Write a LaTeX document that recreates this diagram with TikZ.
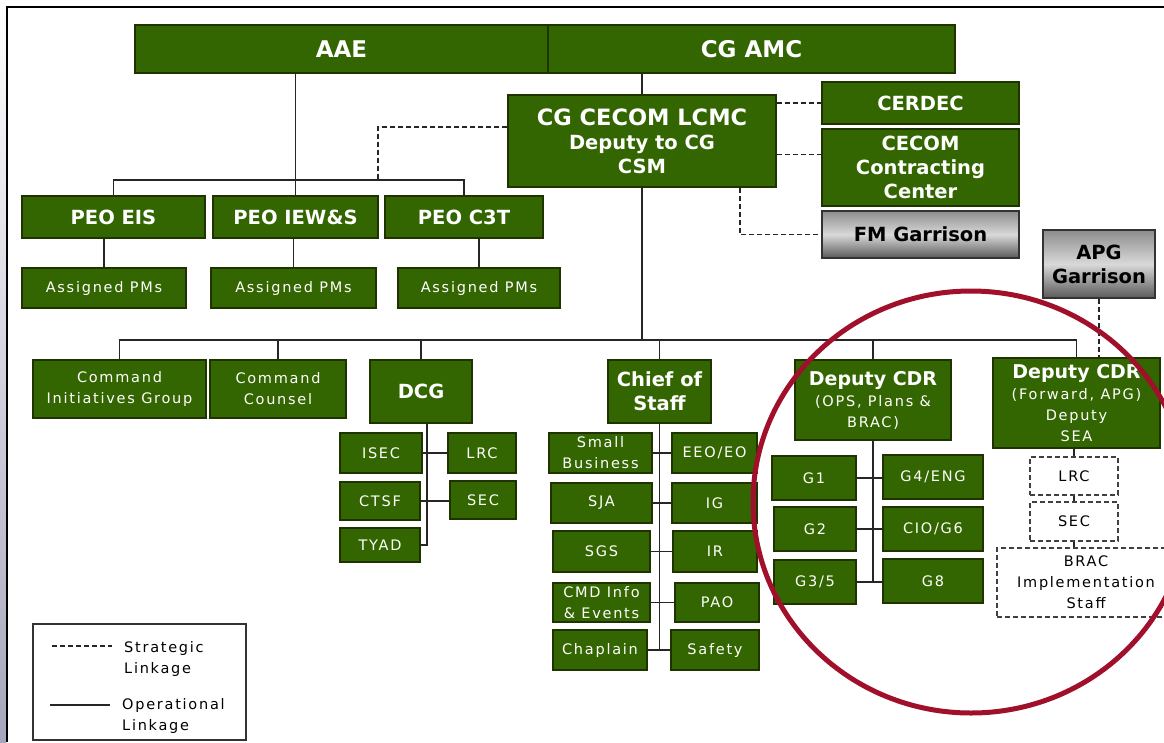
\documentclass[tikz,border=0pt]{standalone}
\usepackage{fontspec}
\setmainfont{DejaVu Sans}
\newfontfamily\pixfont[LetterSpace=12]{DejaVu Sans}
\usetikzlibrary{positioning}
\definecolor{OrgGreen}{HTML}{336600}
\definecolor{OrgEdge}{HTML}{1F3300}
\definecolor{RingRed}{HTML}{A0102A}
\tikzset{
  gbox/.style={draw=OrgEdge,line width=1.4pt,fill=OrgGreen,text=white,
    align=center,inner sep=1pt},
  garr/.style={draw=black!80,line width=1.4pt,top color=black!45,bottom color=black!65,
    middle color=black!15,text=black,align=center,inner sep=1pt},
  dbox/.style={draw=black!75,line width=1.2pt,dash pattern=on 5pt off 3pt,fill=white,
    text=black,align=center,inner sep=1pt},
  sz/.style 2 args={minimum width=#1pt,minimum height=#2pt},
  hfont/.style={font=\fontsize{23}{27}\selectfont\bfseries},
  pfont/.style={font=\fontsize{19.5}{24}\selectfont\bfseries},
  mfont/.style={font=\fontsize{19.5}{24}\selectfont\bfseries},
  sfont/.style={font=\fontsize{14.5}{21}\selectfont\pixfont},
  oplink/.style={draw=black!85,line width=1.7pt},
  stlink/.style={draw=black!85,line width=1.6pt,dash pattern=on 5pt off 3pt},
}

\begin{document}
\begin{tikzpicture}[x=1pt,y=-1pt]
  \useasboundingbox (0,0) rectangle (1164,742);
  \shade[top color=white,bottom color=blue!25!black!35] (0,0) rectangle (6,742);
  \draw[line width=2pt] (7,742) -- (7,7) -- (1164,7);

  % top of the chart
  \node[gbox,hfont,sz={413}{48}] (aae) at (341.5,49) {AAE};
  \node[gbox,hfont,sz={407}{48}] (cgamc) at (751.5,49) {CG AMC};
  \node[gbox,mfont,sz={268}{92}] (lcmc) at (642,141)
    {{\fontsize{22.5}{25}\selectfont CG CECOM LCMC}\\Deputy to CG\\CSM};
  \node[gbox,mfont,sz={197}{42}] (cerdec) at (920.5,103) {CERDEC};
  \node[gbox,mfont,sz={197}{77}] (ccc) at (920.5,167.5) {CECOM\\Contracting\\Center};
  \node[garr,mfont,sz={197}{47}] (fmg) at (920.5,234.5) {FM Garrison};
  \node[garr,mfont,sz={112}{68}] (apg) at (1099,264) {APG\\Garrison};

  \node[gbox,pfont,sz={183}{42}] (peoeis) at (113.5,217) {PEO EIS};
  \node[gbox,pfont,sz={165}{42}] (peoiew) at (295.5,217) {PEO IEW\&S};
  \node[gbox,pfont,sz={158}{42}] (peoc3t) at (464,217) {PEO C3T};
  \node[gbox,sfont,sz={164}{40}] (pms1) at (104,288) {Assigned PMs};
  \node[gbox,sfont,sz={165}{40}] (pms2) at (293.5,288) {Assigned PMs};
  \node[gbox,sfont,sz={162}{40}] (pms3) at (479,288) {Assigned PMs};

  % second row
  \node[gbox,sfont,sz={173}{58}] (cig) at (119.5,389) {Command\\Initiatives Group};
  \node[gbox,sfont,sz={136}{58}] (cc) at (278,389) {Command\\Counsel};
  \node[gbox,mfont,sz={102}{63}] (dcg) at (421,391.5) {DCG};
  \node[gbox,mfont,sz={103}{63}] (cos) at (659.5,391.5) {Chief of\\Staff};
  \node[gbox,sfont,sz={156}{80}] (depops) at (873,400)
    {{\rmfamily\bfseries\fontsize{19}{22}\selectfont Deputy CDR}\\(OPS, Plans \&\\BRAC)};
  \node[gbox,sfont,sz={167}{90}] (depfwd) at (1076.5,403)
    {{\rmfamily\bfseries\fontsize{19}{22}\selectfont Deputy CDR}\\(Forward, APG)\\Deputy\\SEA};

  % DCG
  \node[gbox,sfont,sz={82}{40}] (isec) at (381,453) {ISEC};
  \node[gbox,sfont,sz={68}{40}] (lrc) at (482,453) {LRC};
  \node[gbox,sfont,sz={80}{38}] (ctsf) at (380,501) {CTSF};
  \node[gbox,sfont,sz={66}{38}] (sec) at (483,500) {SEC};
  \node[gbox,sfont,sz={80}{34}] (tyad) at (380,545) {TYAD};

  % chief of staff
  \node[gbox,sfont,sz={103}{40}] (sb) at (600.5,453) {Small\\Business};
  \node[gbox,sfont,sz={85}{40}] (eeo) at (714.5,453) {EEO/EO};
  \node[gbox,sfont,sz={101}{40}] (sja) at (601.5,503) {SJA};
  \node[gbox,sfont,sz={85}{40}] (ig) at (714.5,503) {IG};
  \node[gbox,sfont,sz={97}{41}] (sgs) at (601.5,551.5) {SGS};
  \node[gbox,sfont,sz={84}{41}] (ir) at (715,551.5) {IR};
  \node[gbox,sfont,sz={97}{39}] (cmd) at (601.5,602.5) {CMD Info\\\& Events};
  \node[gbox,sfont,sz={84}{39}] (pao) at (717,602.5) {PAO};
  \node[gbox,sfont,sz={94}{40}] (chap) at (600,650) {Chaplain};
  \node[gbox,sfont,sz={88}{40}] (safe) at (715,650) {Safety};

  % deputy cdr ops
  \node[gbox,sfont,sz={84}{44}] (g1) at (814,478) {G1};
  \node[gbox,sfont,sz={100}{44}] (g4) at (933,477) {G4/ENG};
  \node[gbox,sfont,sz={82}{44}] (g2) at (815,529) {G2};
  \node[gbox,sfont,sz={100}{44}] (g6) at (933,529) {CIO/G6};
  \node[gbox,sfont,sz={82}{44}] (g35) at (815,582) {G3/5};
  \node[gbox,sfont,sz={100}{44}] (g8) at (933,581) {G8};

  % deputy cdr forward
  \node[dbox,sfont,sz={88}{38}] (dlrc) at (1074,476) {LRC};
  \node[dbox,sfont,sz={88}{39}] (dsec) at (1074,521.5) {SEC};
  \node[dbox,sfont,sz={178}{69}] (brac) at (1086,582.5) {BRAC\\Implementation\\Staff};

  % links
  \coordinate (stjoin) at (378,181);
  \coordinate (cccin) at ([yshift=13pt]ccc.west);
  \coordinate (bus) at (642,340);
  \draw[oplink] (aae.south -| peoiew.north) -- (peoiew.north);
  \draw[oplink] (peoeis.north) -- ++(0,-15) -| (peoc3t.north);
  \draw[stlink] ([yshift=14pt]lcmc.west) -| (stjoin);
  \foreach \p/\m in {peoeis/pms1,peoiew/pms2,peoc3t/pms3}
    \draw[oplink] (\m.north) -- (\m.north |- \p.south);
  \draw[oplink] (cgamc.south -| lcmc.north) -- (lcmc.north);
  \draw[stlink] (cerdec.west -| lcmc.east) -- (cerdec.west);
  \draw[stlink] (cccin -| lcmc.east) -- (cccin);
  \draw[stlink] ([xshift=98pt]lcmc.south) |- (fmg.west);
  \draw[oplink] (lcmc.south) -- (bus);
  \draw[oplink] (cig.north) |- (bus) -| (depfwd.north);
  \foreach \n in {cc,dcg,cos,depops}
    \draw[oplink] (\n.north) -- (\n.north |- bus);
  \draw[stlink] (apg.south) -- (apg.south |- depfwd.north);

  \draw[oplink] ([xshift=6pt]dcg.south) |- (tyad.east);
  \draw[oplink] (isec.east) -- (isec.east -| lrc.west);
  \draw[oplink] (ctsf.east) -- (ctsf.east -| sec.west);

  \draw[oplink] (cos.south) |- (chap.east);
  \foreach \a/\b in {sb/eeo,sja/ig,sgs/ir,cmd/pao,chap/safe}
    \draw[oplink] (\a.east) -- (\a.east -| \b.west);

  \draw[oplink] (depops.south) |- (g35.east);
  \foreach \a/\b in {g1/g4,g2/g6,g35/g8}
    \draw[oplink] (\a.east) -- (\a.east -| \b.west);

  \draw[oplink] (dlrc.north |- depfwd.south) -- (dlrc.north);
  \draw[oplink] (dlrc.south) -- (dsec.north);
  \draw[oplink] (dsec.south) -- (dsec.south |- brac.north);

  % legend
  \node[draw=black!80,line width=1.2pt,sz={213}{116}] (legend) at (139.5,682) {};
  \coordinate (lgs1) at (52,646);
  \coordinate (lgs2) at (112,646);
  \coordinate (lgo1) at (50,705);
  \coordinate (lgo2) at (110,705);
  \draw[stlink] (lgs1) -- (lgs2);
  \draw[oplink] (lgo1) -- (lgo2);
  \node[sfont,anchor=west,align=left,inner sep=0pt] (lgstxt) at (124,659) {Strategic\\Linkage};
  \node[sfont,anchor=west,align=left,inner sep=0pt] (lgotxt) at (122,716) {Operational\\Linkage};

  \draw[RingRed,line width=5pt] (971,502) ellipse [x radius=218pt,y radius=211pt];
\end{tikzpicture}
\end{document}
